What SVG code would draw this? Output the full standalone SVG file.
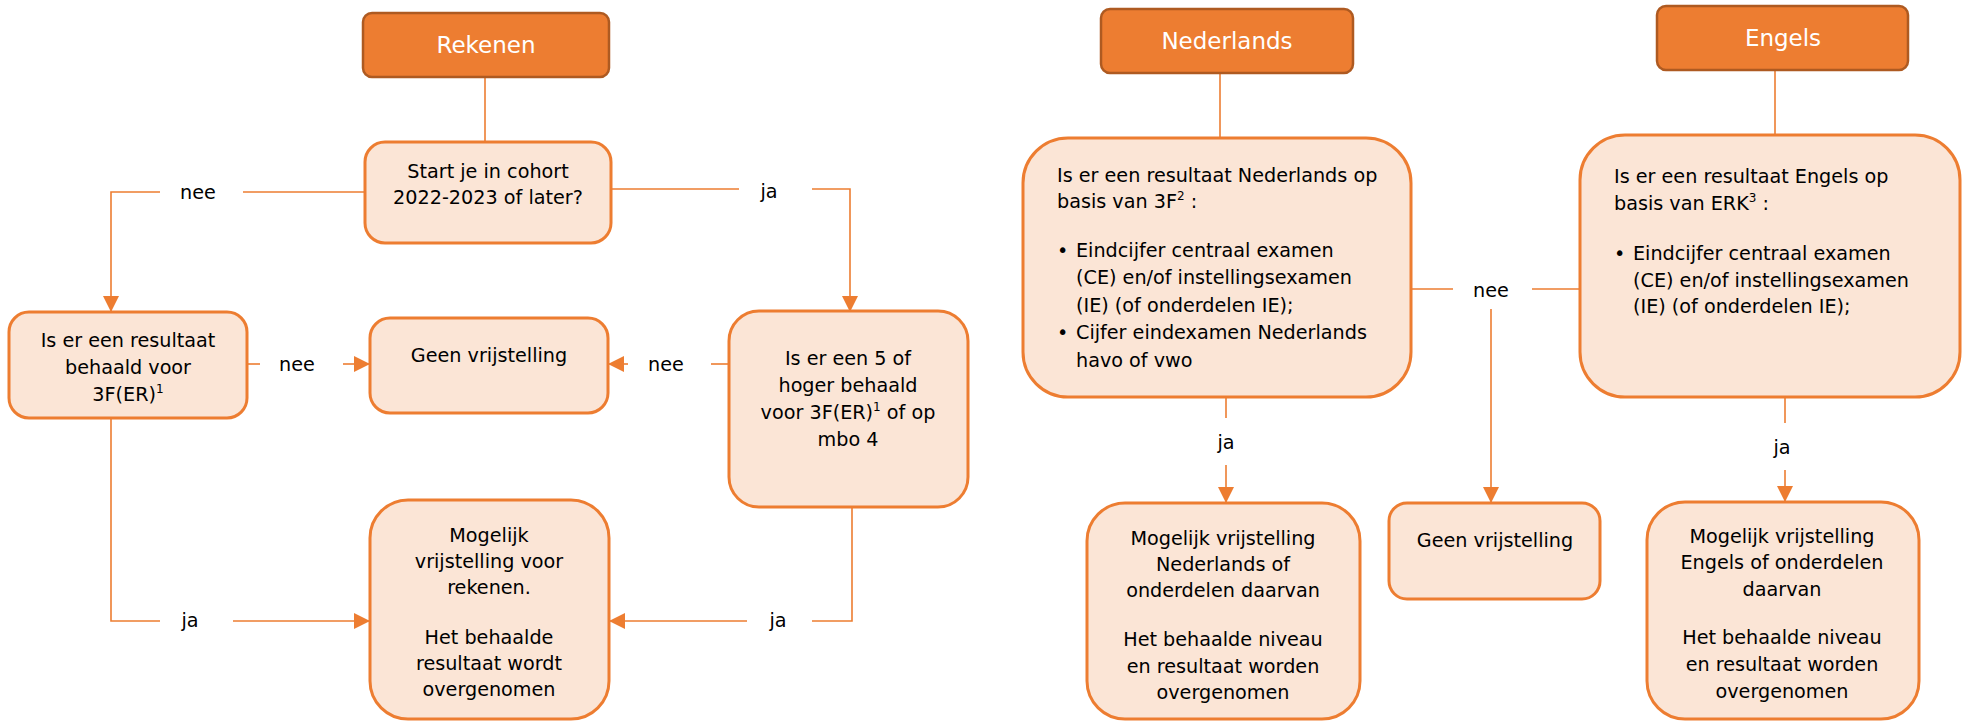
<svg xmlns="http://www.w3.org/2000/svg" width="1962" height="721" viewBox="0 0 1962 721">
<defs>
<style>
.hdr rect{fill:#ED7D31;stroke:#AE5A21;stroke-width:2.5}
.hdr text{fill:#FFFFFF;font-family:"DejaVu Sans",Verdana,sans-serif;font-size:23px;text-anchor:middle}
.node rect{fill:#FBE5D6;stroke:#ED7D31;stroke-width:3}
.t{fill:#000;font-family:"DejaVu Sans",Verdana,sans-serif;font-size:19.2px}
.c{text-anchor:middle}
.conn path{fill:none;stroke:#ED7D31;stroke-width:1.6}
.lbl{fill:#000;font-family:"DejaVu Sans",Verdana,sans-serif;font-size:19.2px;text-anchor:middle}
</style>
<marker id="ah" markerUnits="userSpaceOnUse" markerWidth="16" markerHeight="16" viewBox="0 0 16 16" refX="15" refY="8" orient="auto">
<path d="M0,0 L16,8 L0,16 Z" fill="#ED7D31"/>
</marker>
</defs>
<rect width="1962" height="721" fill="#FFFFFF"/>

<g id="connectors" class="conn">
<path d="M485 77 V142"/>
<path d="M365 192 H243"/>
<path d="M160 192 H111 V311" marker-end="url(#ah)"/>
<path d="M611 189 H739"/>
<path d="M812 189 H850 V311" marker-end="url(#ah)"/>
<path d="M247 364 H260"/>
<path d="M343 364 H369" marker-end="url(#ah)"/>
<path d="M729 364 H711"/>
<path d="M628 364 H609" marker-end="url(#ah)"/>
<path d="M111 418 V621 H160"/>
<path d="M233 621 H369" marker-end="url(#ah)"/>
<path d="M852 507 V621 H812"/>
<path d="M747 621 H610" marker-end="url(#ah)"/>
<path d="M1220 73 V138"/>
<path d="M1775 70 V135"/>
<path d="M1411 289 H1453"/>
<path d="M1532 289 H1580"/>
<path d="M1491 309 V502" marker-end="url(#ah)"/>
<path d="M1226 397 V418"/>
<path d="M1226 465 V502" marker-end="url(#ah)"/>
<path d="M1785 397 V423"/>
<path d="M1785 470 V501" marker-end="url(#ah)"/>
<text class="lbl" x="198" y="199">nee</text>
<text class="lbl" x="769" y="198">ja</text>
<text class="lbl" x="297" y="371">nee</text>
<text class="lbl" x="666" y="371">nee</text>
<text class="lbl" x="190" y="627">ja</text>
<text class="lbl" x="778" y="627">ja</text>
<text class="lbl" x="1491" y="297">nee</text>
<text class="lbl" x="1226" y="449">ja</text>
<text class="lbl" x="1782" y="454">ja</text>
</g>

<g id="rekenen-header" class="hdr">
<rect x="363" y="13" width="246" height="64" rx="9"/>
<text x="486" y="53">Rekenen</text>
</g>
<g id="nederlands-header" class="hdr">
<rect x="1101" y="9" width="252" height="64" rx="9"/>
<text x="1227" y="49">Nederlands</text>
</g>
<g id="engels-header" class="hdr">
<rect x="1657" y="6" width="251" height="64" rx="9"/>
<text x="1783" y="46">Engels</text>
</g>

<g id="start-cohort" class="node">
<rect x="365" y="142" width="246" height="101" rx="20"/>
<text class="t c" x="488" y="178">Start je in cohort</text>
<text class="t c" x="488" y="204">2022-2023 of later?</text>
</g>

<g id="resultaat-3fer" class="node">
<rect x="9" y="312" width="238" height="106" rx="20"/>
<text class="t c" x="128" y="347">Is er een resultaat</text>
<text class="t c" x="128" y="374">behaald voor</text>
<text class="t c" x="128" y="401">3F(ER)<tspan font-size="12" dy="-8">1</tspan></text>
</g>

<g id="geen-vrijstelling-rekenen" class="node">
<rect x="370" y="318" width="238" height="95" rx="20"/>
<text class="t c" x="489" y="362">Geen vrijstelling</text>
</g>

<g id="vijf-of-hoger" class="node">
<rect x="729" y="311" width="239" height="196" rx="30"/>
<text class="t c" x="848" y="365">Is er een 5 of</text>
<text class="t c" x="848" y="392">hoger behaald</text>
<text class="t c" x="848" y="419">voor 3F(ER)<tspan font-size="12" dy="-8">1</tspan><tspan dy="8"> of op</tspan></text>
<text class="t c" x="848" y="446">mbo 4</text>
</g>

<g id="mogelijk-rekenen" class="node">
<rect x="370" y="500" width="239" height="219" rx="38"/>
<text class="t c" x="489" y="542">Mogelijk</text>
<text class="t c" x="489" y="568">vrijstelling voor</text>
<text class="t c" x="489" y="594">rekenen.</text>
<text class="t c" x="489" y="644">Het behaalde</text>
<text class="t c" x="489" y="670">resultaat wordt</text>
<text class="t c" x="489" y="696">overgenomen</text>
</g>

<g id="resultaat-nederlands" class="node">
<rect x="1023" y="138" width="388" height="259" rx="45"/>
<text class="t" x="1057" y="182">Is er een resultaat Nederlands op</text>
<text class="t" x="1057" y="208">basis van 3F<tspan font-size="12" dy="-8">2</tspan><tspan dy="8"> :</tspan></text>
<text class="t" x="1057" y="257">•</text>
<text class="t" x="1076" y="257">Eindcijfer centraal examen</text>
<text class="t" x="1076" y="284">(CE) en/of instellingsexamen</text>
<text class="t" x="1076" y="312">(IE) (of onderdelen IE);</text>
<text class="t" x="1057" y="339">•</text>
<text class="t" x="1076" y="339">Cijfer eindexamen Nederlands</text>
<text class="t" x="1076" y="367">havo of vwo</text>
</g>

<g id="resultaat-engels" class="node">
<rect x="1580" y="135" width="380" height="262" rx="45"/>
<text class="t" x="1614" y="183">Is er een resultaat Engels op</text>
<text class="t" x="1614" y="210">basis van ERK<tspan font-size="12" dy="-8">3</tspan><tspan dy="8"> :</tspan></text>
<text class="t" x="1614" y="260">•</text>
<text class="t" x="1633" y="260">Eindcijfer centraal examen</text>
<text class="t" x="1633" y="287">(CE) en/of instellingsexamen</text>
<text class="t" x="1633" y="313">(IE) (of onderdelen IE);</text>
</g>

<g id="geen-vrijstelling-talen" class="node">
<rect x="1389" y="503" width="211" height="96" rx="18"/>
<text class="t c" x="1495" y="547">Geen vrijstelling</text>
</g>

<g id="mogelijk-nederlands" class="node">
<rect x="1087" y="503" width="273" height="216" rx="38"/>
<text class="t c" x="1223" y="545">Mogelijk vrijstelling</text>
<text class="t c" x="1223" y="571">Nederlands of</text>
<text class="t c" x="1223" y="597">onderdelen daarvan</text>
<text class="t c" x="1223" y="646">Het behaalde niveau</text>
<text class="t c" x="1223" y="673">en resultaat worden</text>
<text class="t c" x="1223" y="699">overgenomen</text>
</g>

<g id="mogelijk-engels" class="node">
<rect x="1647" y="502" width="272" height="217" rx="38"/>
<text class="t c" x="1782" y="543">Mogelijk vrijstelling</text>
<text class="t c" x="1782" y="569">Engels of onderdelen</text>
<text class="t c" x="1782" y="596">daarvan</text>
<text class="t c" x="1782" y="644">Het behaalde niveau</text>
<text class="t c" x="1782" y="671">en resultaat worden</text>
<text class="t c" x="1782" y="698">overgenomen</text>
</g>
</svg>
